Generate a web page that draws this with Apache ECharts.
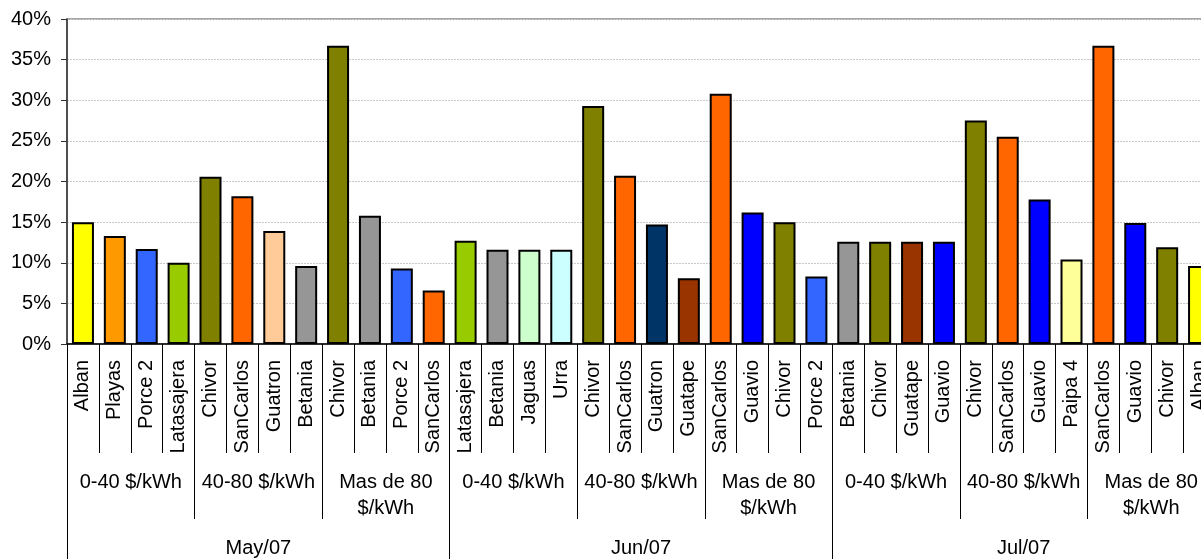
<!DOCTYPE html>
<html>
<head>
<meta charset="utf-8">
<script src="https://cdn.jsdelivr.net/npm/echarts@6/dist/echarts.min.js"></script>
<style>
  html, body { margin: 0; padding: 0; background: #fff; }
  #chart { width: 1201px; height: 559px; }
</style>
</head>
<body>
<div id="chart"></div>
<script>
// Share of generation by plant, grouped by price band and month
const months = ['May/07', 'Jun/07', 'Jul/07'];
const bands = [
  '0-40 $/kWh', '40-80 $/kWh', 'Mas de 80\n$/kWh',
  '0-40 $/kWh', '40-80 $/kWh', 'Mas de 80\n$/kWh',
  '0-40 $/kWh', '40-80 $/kWh', 'Mas de 80\n$/kWh'
];
const plants = [
  'Alban', 'Playas', 'Porce 2', 'Latasajera',
  'Chivor', 'SanCarlos', 'Guatron', 'Betania',
  'Chivor', 'Betania', 'Porce 2', 'SanCarlos',
  'Latasajera', 'Betania', 'Jaguas', 'Urra',
  'Chivor', 'SanCarlos', 'Guatron', 'Guatape',
  'SanCarlos', 'Guavio', 'Chivor', 'Porce 2',
  'Betania', 'Chivor', 'Guatape', 'Guavio',
  'Chivor', 'SanCarlos', 'Guavio', 'Paipa 4',
  'SanCarlos', 'Guavio', 'Chivor', 'Alban'
];
const shares = [
  15.0, 13.3, 11.7, 10.0,
  20.6, 18.2, 13.9, 9.6,
  36.7, 15.8, 9.3, 6.6,
  12.7, 11.6, 11.6, 11.6,
  29.3, 20.7, 14.7, 8.1,
  30.8, 16.2, 15.0, 8.3,
  12.6, 12.6, 12.6, 12.6,
  27.5, 25.5, 17.8, 10.4,
  36.7, 14.9, 11.9, 9.6
];
const yTicks = { min: 0, max: 40, step: 5 };

// Fill colour of each bar, in plot order
const barColors = [
  '#FFFF00', '#FF9900', '#3366FF', '#99CC00',
  '#808000', '#FF6600', '#FFCC99', '#969696',
  '#808000', '#969696', '#3366FF', '#FF6600',
  '#99CC00', '#969696', '#CCFFCC', '#CCFFFF',
  '#808000', '#FF6600', '#003366', '#993300',
  '#FF6600', '#0000FF', '#808000', '#3366FF',
  '#969696', '#808000', '#993300', '#0000FF',
  '#808000', '#FF6600', '#0000FF', '#FFFF99',
  '#FF6600', '#0000FF', '#808000', '#FFFF00'
];

const FONT = '"Liberation Sans", Arial, sans-serif';
const chart = echarts.init(document.getElementById('chart'), null, { renderer: 'canvas' });

const tickLine = { color: '#000', width: 1 };

chart.setOption({
  animation: false,
  backgroundColor: '#fff',
  textStyle: { fontFamily: FONT },
  grid: {
    left: 67, top: 19, width: 1148, height: 325,
    containLabel: false,
    outerBoundsMode: 'none',
    show: true, borderColor: '#888', borderWidth: 1.5, backgroundColor: 'transparent'
  },
  xAxis: [
    {
      type: 'category', data: plants, position: 'bottom', gridIndex: 0,
      axisLine: { show: true, lineStyle: { color: '#000', width: 1.5 } },
      axisTick: { show: true, interval: 0, length: 109, lineStyle: tickLine },
      axisLabel: {
        interval: 0, rotate: 90, margin: 16,
        fontSize: 20, color: '#000', fontFamily: FONT
      }
    },
    {
      type: 'category', data: bands, position: 'bottom', gridIndex: 0,
      axisLine: { show: false },
      axisTick: { show: true, interval: 0, length: 175, lineStyle: tickLine },
      axisLabel: {
        interval: 0, margin: 125, fontSize: 20, lineHeight: 26,
        color: '#000', fontFamily: FONT, align: 'center'
      }
    },
    {
      type: 'category', data: months, position: 'bottom', gridIndex: 0,
      axisLine: { show: false },
      axisTick: { show: true, interval: 0, length: 230, lineStyle: tickLine },
      axisLabel: {
        interval: 0, margin: 191, fontSize: 20, lineHeight: 26,
        color: '#000', fontFamily: FONT
      }
    }
  ],
  yAxis: {
    type: 'value',
    min: yTicks.min, max: yTicks.max, interval: yTicks.step,
    axisLine: { show: true, lineStyle: { color: '#333', width: 1.5 } },
    axisTick: { show: true, length: 6, lineStyle: { color: '#333', width: 1 } },
    axisLabel: {
      margin: 16, fontSize: 20, color: '#000', fontFamily: FONT,
      formatter: '{value}%'
    },
    splitLine: {
      show: true,
      lineStyle: { color: '#c8c8c8', width: 1, type: [2, 1] }
    }
  },
  series: [
    {
      type: 'bar',
      xAxisIndex: 0,
      barWidth: 22,
      data: shares.map((v, i) => ({
        value: v,
        itemStyle: { color: barColors[i] }
      })),
      itemStyle: { borderColor: '#000', borderWidth: 2 }
    }
  ]
});
</script>
</body>
</html>
